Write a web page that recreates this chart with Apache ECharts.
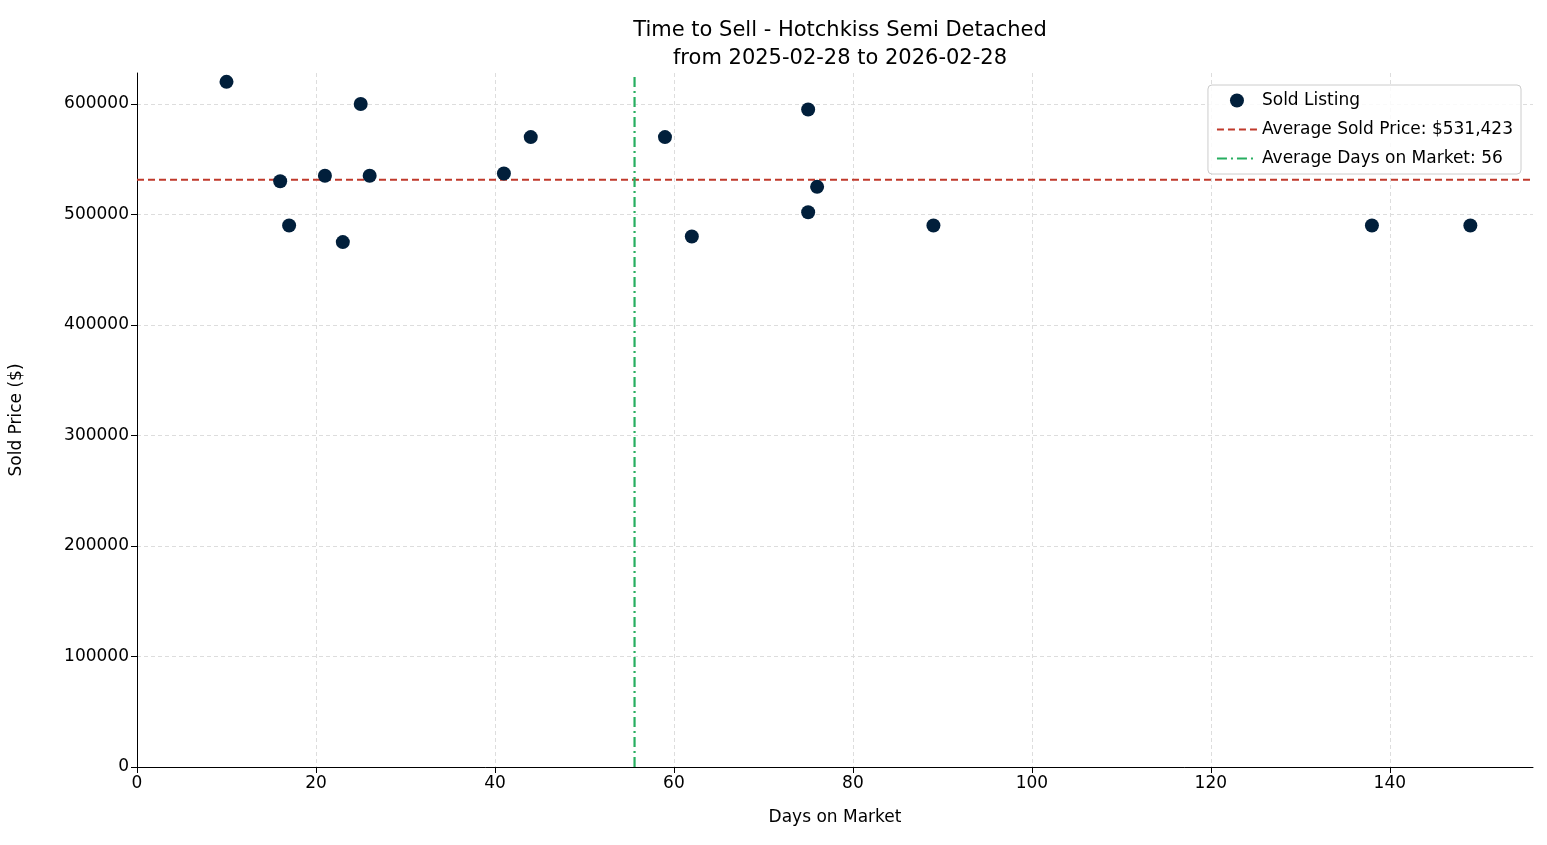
<!DOCTYPE html>
<html>
<head>
<meta charset="utf-8">
<script src="https://cdn.jsdelivr.net/npm/echarts@6/dist/echarts.min.js"></script>
<style>html,body{margin:0;background:#fff}#chart{width:1547px;height:845px}</style>
</head>
<body>
<div id="chart"></div>
<script>
var days = [10, 16, 17, 21, 23, 25, 26, 41, 44, 59, 62, 75, 75, 76, 89, 138, 149];
var prices = [620000, 530000, 490000, 535000, 475000, 600000, 535000, 537000, 570000, 570000, 480000, 595000, 502000, 525000, 490000, 490000, 490000];
var avgPrice = 531423;
var avgDays = 55.6;
var xMax = 156, yMax = 628000;

var points = days.map(function (d, i) { return [d, prices[i]]; });
var font = 'DejaVu Sans';

var mychart = echarts.init(document.getElementById('chart'));
var option = {
    backgroundColor: '#fff',
    textStyle: { fontFamily: font },
    title: {
        text: 'Time to Sell - Hotchkiss Semi Detached\nfrom 2025-02-28 to 2026-02-28',
        left: 835, top: 12, textAlign: 'center',
        textStyle: { fontSize: 21, fontWeight: 'normal', color: '#000', lineHeight: 28, fontFamily: font }
    },
    grid: { left: 137, right: 14, top: 73, bottom: 78 },
    legend: {
        orient: 'vertical', right: 26, top: 85,
        backgroundColor: 'rgba(255,255,255,0.85)', borderColor: '#ccc', borderWidth: 1, borderRadius: 4,
        padding: [7, 8, 7, 8], itemGap: 12, itemWidth: 40, itemHeight: 14,
        textStyle: { fontSize: 17, color: '#000', fontFamily: font },
        data: [
            { name: 'Sold Listing' },
            { name: 'Average Sold Price: $531,423', itemStyle: { opacity: 0 } },
            { name: 'Average Days on Market: 56', itemStyle: { opacity: 0 } }
        ]
    },
    xAxis: {
        type: 'value', min: 0, max: xMax, interval: 20,
        name: 'Days on Market', nameLocation: 'middle', nameGap: 42,
        nameTextStyle: { fontSize: 17, color: '#000' },
        axisLine: { lineStyle: { color: '#000' } },
        axisTick: { show: true, length: 6, lineStyle: { color: '#000' } },
        axisLabel: { fontSize: 17, color: '#000', showMaxLabel: false },
        splitLine: { showMaxLine: false, lineStyle: { color: '#ddd', type: [4, 3] } }
    },
    yAxis: {
        type: 'value', min: 0, max: yMax, interval: 100000,
        name: 'Sold Price ($)', nameLocation: 'middle', nameGap: 112,
        nameTextStyle: { fontSize: 17, color: '#000' },
        axisLine: { show: true, lineStyle: { color: '#000' } },
        axisTick: { show: true, length: 6, lineStyle: { color: '#000' } },
        axisLabel: { fontSize: 17, color: '#000', showMaxLabel: false, formatter: function (v) { return String(v); } },
        splitLine: { showMaxLine: false, lineStyle: { color: '#ddd', type: [4, 3] } }
    },
    series: [
        {
            name: 'Sold Listing', type: 'scatter', data: points, symbolSize: 14,
            itemStyle: { color: '#011f3b', opacity: 1 }, z: 5
        },
        {
            name: 'Average Sold Price: $531,423', type: 'line', showSymbol: false, symbol: 'none',
            data: [[0, avgPrice], [xMax, avgPrice]],
            lineStyle: { color: '#c0392b', width: 2.2, type: [7, 4] }, itemStyle: { color: '#c0392b' }
        },
        {
            name: 'Average Days on Market: 56', type: 'line', showSymbol: false, symbol: 'none',
            data: [[avgDays, 0], [avgDays, yMax]],
            lineStyle: { color: '#27ae60', width: 2.2, type: [10, 4, 2, 4] }, itemStyle: { color: '#27ae60' }
        }
    ]
};
mychart.setOption(option, true);
</script>
</body>
</html>
